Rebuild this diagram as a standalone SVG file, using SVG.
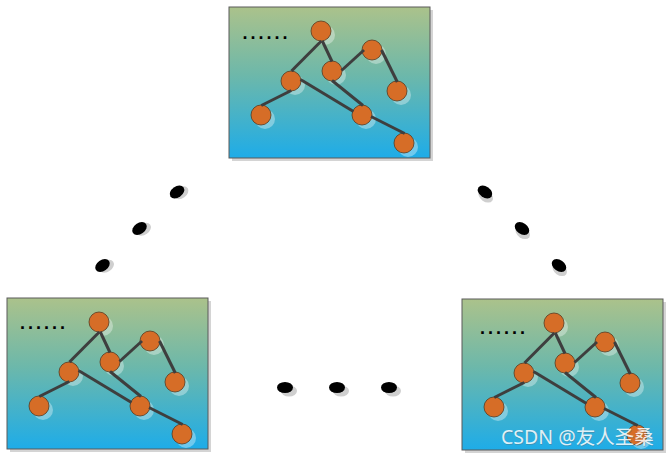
<svg xmlns="http://www.w3.org/2000/svg" xmlns:xlink="http://www.w3.org/1999/xlink" width="669" height="455" viewBox="0 0 669 455">
  <style>
    .bg{fill:url(#grad);stroke:#5a5a5a;stroke-width:1}
    .pshadow{fill:#d4d4d4}
    .edge{stroke:#3e3e3e;stroke-width:3;stroke-linecap:butt}
    .node{fill:#d66d27;stroke:#5a3a20;stroke-width:0.8}
    .nshadow{fill:#ffffff;fill-opacity:0.35}
    .dots{font-family:"Liberation Sans",Arial,sans-serif;font-weight:bold;font-size:18px;letter-spacing:3px;fill:#000}
    .bigdot{fill:#000}
    .bigshadow{fill:#cfcfcf}
    .wm{font-family:"Noto Sans","Noto Sans CJK SC",sans-serif;font-size:19.5px;fill:#ffffff;fill-opacity:0.85}
    .wms{font-family:"Noto Sans","Noto Sans CJK SC",sans-serif;font-size:19.5px;fill:#5a6a70;fill-opacity:0.35}
  </style>
  <defs>
    <linearGradient id="grad" x1="0" y1="0" x2="0" y2="1">
      <stop offset="0" stop-color="#abc28b"/>
      <stop offset="0.45" stop-color="#6db8aa"/>
      <stop offset="1" stop-color="#1eace8"/>
    </linearGradient>
    <g id="tree">
      <rect class="pshadow" x="3" y="3" width="201" height="151"/>
      <rect class="bg" x="0" y="0" width="201" height="151"/>
      <g class="nshadows">
        <circle class="nshadow" cx="96" cy="28" r="10"/>
        <circle class="nshadow" cx="147" cy="47" r="10"/>
        <circle class="nshadow" cx="107" cy="68" r="10"/>
        <circle class="nshadow" cx="66" cy="78" r="10"/>
        <circle class="nshadow" cx="172" cy="88" r="10"/>
        <circle class="nshadow" cx="36" cy="112" r="10"/>
        <circle class="nshadow" cx="137" cy="112" r="10"/>
        <circle class="nshadow" cx="179" cy="140" r="10"/>
      </g>
      <circle class="node" cx="92" cy="24" r="10"/>
      <circle class="node" cx="143" cy="43" r="10"/>
      <circle class="node" cx="103" cy="64" r="10"/>
      <circle class="node" cx="62" cy="74" r="10"/>
      <circle class="node" cx="168" cy="84" r="10"/>
      <circle class="node" cx="32" cy="108" r="10"/>
      <circle class="node" cx="133" cy="108" r="10"/>
      <circle class="node" cx="175" cy="136" r="10"/>
      <g class="edges">
        <line class="edge" x1="92.3" y1="34" x2="62.5" y2="64"/>
        <line class="edge" x1="93.3" y1="34" x2="103" y2="54.5"/>
        <line class="edge" x1="112.5" y1="63.5" x2="135" y2="43"/>
        <line class="edge" x1="152.5" y1="43" x2="168.3" y2="75"/>
        <line class="edge" x1="62.3" y1="83.5" x2="32.3" y2="98.5"/>
        <line class="edge" x1="71.5" y1="72.5" x2="124.5" y2="104.5"/>
        <line class="edge" x1="103" y1="73.5" x2="134" y2="98.5"/>
        <line class="edge" x1="142" y1="109.5" x2="175.7" y2="126.5"/>
      </g>
    </g>
  </defs>

  <g id="panel-top">
    <use xlink:href="#tree" href="#tree" transform="translate(229,7)"/>
    <text class="dots" x="242.5" y="38.8">......</text>
  </g>
  <g id="panel-left">
    <use xlink:href="#tree" href="#tree" transform="translate(7,298)"/>
    <text class="dots" x="20" y="328.8">......</text>
  </g>
  <g id="panel-right">
    <use xlink:href="#tree" href="#tree" transform="translate(462,299)"/>
    <text class="dots" x="480" y="333.5">......</text>
  </g>

  <g id="ellipsis-left">
    <g transform="translate(177,192) rotate(-35)"><ellipse class="bigshadow" cx="3" cy="3" rx="8" ry="5.5"/><ellipse class="bigdot" rx="8" ry="5.5"/></g>
    <g transform="translate(139.5,228.5) rotate(-35)"><ellipse class="bigshadow" cx="3" cy="3" rx="8" ry="5.5"/><ellipse class="bigdot" rx="8" ry="5.5"/></g>
    <g transform="translate(102.5,265.5) rotate(-35)"><ellipse class="bigshadow" cx="3" cy="3" rx="8" ry="5.5"/><ellipse class="bigdot" rx="8" ry="5.5"/></g>
  </g>
  <g id="ellipsis-right">
    <g transform="translate(485,192) rotate(35)"><ellipse class="bigshadow" cx="3" cy="3" rx="8" ry="5.5"/><ellipse class="bigdot" rx="8" ry="5.5"/></g>
    <g transform="translate(522,228.5) rotate(35)"><ellipse class="bigshadow" cx="3" cy="3" rx="8" ry="5.5"/><ellipse class="bigdot" rx="8" ry="5.5"/></g>
    <g transform="translate(559,265.5) rotate(35)"><ellipse class="bigshadow" cx="3" cy="3" rx="8" ry="5.5"/><ellipse class="bigdot" rx="8" ry="5.5"/></g>
  </g>
  <g id="ellipsis-bottom">
    <ellipse class="bigshadow" cx="289" cy="391" rx="8" ry="5.5"/><ellipse class="bigdot" cx="285" cy="387.5" rx="8" ry="5.5"/>
    <ellipse class="bigshadow" cx="341" cy="391" rx="8" ry="5.5"/><ellipse class="bigdot" cx="337" cy="387.5" rx="8" ry="5.5"/>
    <ellipse class="bigshadow" cx="393" cy="391" rx="8" ry="5.5"/><ellipse class="bigdot" cx="389" cy="387.5" rx="8" ry="5.5"/>
  </g>

  <g id="watermark">
    <text class="wms" x="501.8" y="444.8">CSDN @友人圣桑</text>
    <text class="wm" x="501" y="444">CSDN @友人圣桑</text>
  </g>
</svg>
